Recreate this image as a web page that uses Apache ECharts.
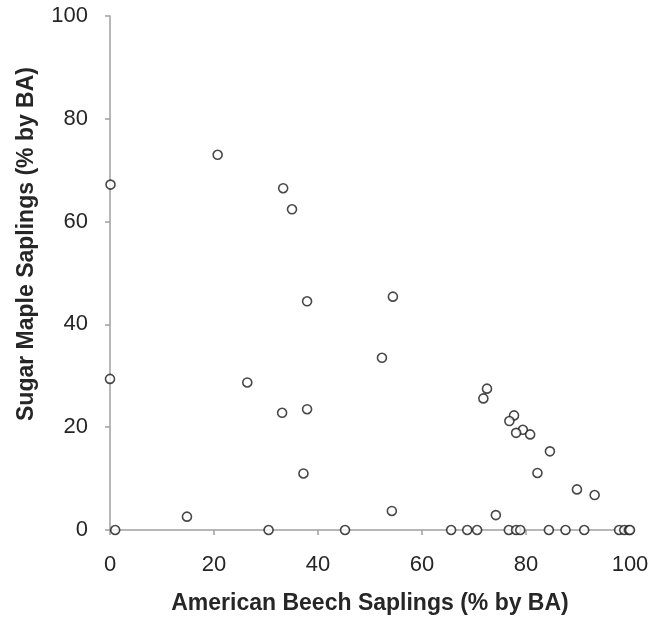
<!DOCTYPE html>
<html>
<head>
<meta charset="utf-8">
<script src="https://cdn.jsdelivr.net/npm/echarts@6/dist/echarts.min.js"></script>
<style>
html,body{margin:0;padding:0;background:#fff;}
#chart{width:652px;height:620px;}
</style>
</head>
<body>
<div id="chart"></div>
<script>
const xTitle = 'American Beech Saplings (% by BA)';
const yTitle = 'Sugar Maple Saplings (% by BA)';
const xTicks = [0, 20, 40, 60, 80, 100];
const yTicks = [0, 20, 40, 60, 80, 100];
const beech = [0.1, 20.7, 33.3, 35.0, 37.9, 0, 26.4, 33.1, 37.9, 37.2, 14.8, 1.0, 30.5, 45.2,
  54.4, 52.3, 54.2, 72.5, 71.8, 77.7, 76.8, 79.4, 78.1, 80.8, 84.6, 82.2, 89.8, 93.2, 74.2,
  65.6, 68.7, 70.6, 76.7, 78.1, 78.9, 84.4, 87.6, 91.2, 97.9, 98.9, 99.8, 100];
const maple = [67.2, 73.0, 66.5, 62.4, 44.5, 29.4, 28.7, 22.8, 23.5, 11.0, 2.6, 0, 0, 0,
  45.4, 33.5, 3.7, 27.5, 25.6, 22.3, 21.2, 19.5, 18.9, 18.6, 15.3, 11.1, 7.9, 6.8, 2.9,
  0, 0, 0, 0, 0, 0, 0, 0, 0, 0, 0, 0, 0];

const points = beech.map((b, i) => [b, maple[i]]);
const font = '"Liberation Sans", Arial, sans-serif';
const axisColor = '#a0a0a0';
const textColor = '#262626';

const chart = echarts.init(document.getElementById('chart'), null, {renderer: 'canvas'});
chart.setOption({
  animation: false,
  backgroundColor: '#fff',
  grid: {left: 110, right: 22, top: 16, bottom: 88, containLabel: false},
  xAxis: {
    type: 'value', min: xTicks[0], max: xTicks[xTicks.length - 1], interval: 20,
    name: xTitle, nameLocation: 'middle', nameGap: 62,
    nameTextStyle: {fontFamily: font, fontSize: 23, fontWeight: 'bold', color: textColor},
    axisLine: {show: true, lineStyle: {color: axisColor, width: 1.5}},
    axisTick: {show: true, inside: false, length: 5, lineStyle: {color: axisColor, width: 1.5}},
    axisLabel: {fontFamily: font, fontSize: 22, color: textColor, margin: 24},
    splitLine: {show: false}
  },
  yAxis: {
    type: 'value', min: yTicks[0], max: yTicks[yTicks.length - 1], interval: 20,
    name: yTitle, nameLocation: 'middle', nameGap: 72,
    nameTextStyle: {fontFamily: font, fontSize: 23, fontWeight: 'bold', color: textColor, padding: [0, 0, 0, 58]},
    axisLine: {show: true, lineStyle: {color: axisColor, width: 1.5}},
    axisTick: {show: true, inside: false, length: 5, lineStyle: {color: axisColor, width: 1.5}},
    axisLabel: {fontFamily: font, fontSize: 22, color: textColor, margin: 22},
    splitLine: {show: false}
  },
  series: [{
    type: 'scatter',
    data: points,
    symbol: 'circle',
    symbolSize: 9,
    clip: false,
    itemStyle: {color: '#ffffff', borderColor: '#1a1a1a', borderWidth: 1.6}
  }]
});
</script>
</body>
</html>
